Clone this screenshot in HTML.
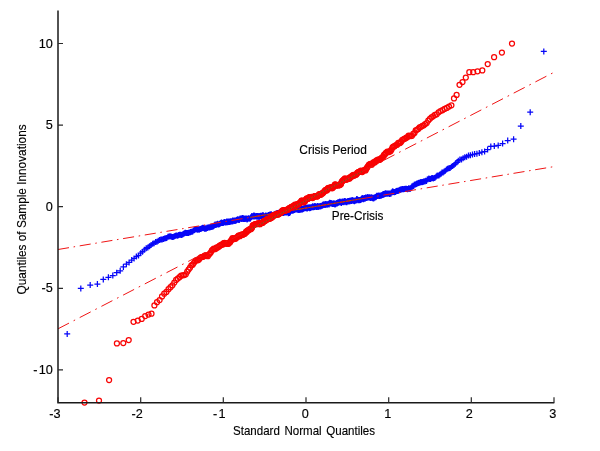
<!DOCTYPE html>
<html><head><meta charset="utf-8"><title>QQ Plot</title>
<style>
html,body{margin:0;padding:0;background:#fff;}
body{width:600px;height:451px;overflow:hidden;}
svg{display:block;filter:blur(0.35px)}
text{font-family:"Liberation Sans",Arial,sans-serif;font-size:12.7px;fill:#000;stroke:#000;stroke-width:0.15px;}
.ax{stroke:#1a1a1a;stroke-width:1.5;fill:none}
.tk{stroke:#2a2a2a;stroke-width:1.2;fill:none}
.ref{stroke:#f01414;stroke-width:1;fill:none}
.gd{stroke:#2f7a18;stroke-width:1;fill:none;stroke-dasharray:1.3 1.9;opacity:.85}
.rc{stroke:#f80404;stroke-width:1.25;fill:none}
.bp{stroke:#0606f8;stroke-width:1.25;fill:none}
</style></head><body>
<svg width="600" height="451" viewBox="0 0 600 451">
<rect width="600" height="451" fill="#fff"/>

<path class="bp" d="M64.2 333.9h6M67.2 330.9v6M77.8 288.4h6M80.8 285.4v6M87.2 285.0h6M90.2 282.0v6M94.4 284.1h6M97.4 281.1v6M100.3 279.4h6M103.3 276.4v6M105.4 277.3h6M108.4 274.3v6M109.8 275.5h6M112.8 272.5v6M113.7 272.7h6M116.7 269.7v6M117.2 270.8h6M120.2 267.8v6M120.4 266.9h6M123.4 263.9v6M123.4 264.2h6M126.4 261.2v6M126.1 262.4h6M129.1 259.4v6M128.7 260.1h6M131.7 257.1v6M131.1 258.4h6M134.1 255.4v6M133.4 256.6h6M136.4 253.6v6M135.5 255.4h6M138.5 252.4v6M137.6 253.2h6M140.6 250.2v6M139.5 251.7h6M142.5 248.7v6M141.4 249.8h6M144.4 246.8v6M143.2 248.3h6M146.2 245.3v6M144.9 247.6h6M147.9 244.6v6M146.5 246.2h6M149.5 243.2v6M148.1 244.9h6M151.1 241.9v6M149.7 243.8h6M152.7 240.8v6M151.1 243.2h6M154.1 240.2v6M152.6 242.1h6M155.6 239.1v6M154.0 241.7h6M157.0 238.7v6M155.3 240.8h6M158.3 237.8v6M156.6 240.1h6M159.6 237.1v6M157.9 239.6h6M160.9 236.6v6M159.1 239.5h6M162.1 236.5v6M160.4 238.9h6M163.4 235.9v6M161.5 238.5h6M164.5 235.5v6M162.7 238.2h6M165.7 235.2v6M163.8 237.9h6M166.8 234.9v6M164.9 236.7h6M167.9 233.7v6M166.0 236.4h6M169.0 233.4v6M167.0 236.3h6M170.0 233.3v6M168.1 236.5h6M171.1 233.5v6M169.1 237.0h6M172.1 234.0v6M170.1 236.9h6M173.1 233.9v6M171.1 236.6h6M174.1 233.6v6M172.0 235.9h6M175.0 232.9v6M173.0 235.6h6M176.0 232.6v6M173.9 235.6h6M176.9 232.6v6M174.8 235.7h6M177.8 232.7v6M175.7 235.1h6M178.7 232.1v6M176.6 234.8h6M179.6 231.8v6M177.4 234.8h6M180.4 231.8v6M178.3 235.1h6M181.3 232.1v6M179.1 234.8h6M182.1 231.8v6M179.9 234.3h6M182.9 231.3v6M180.7 233.7h6M183.7 230.7v6M181.5 233.3h6M184.5 230.3v6M182.3 232.8h6M185.3 229.8v6M183.1 232.9h6M186.1 229.9v6M183.9 233.0h6M186.9 230.0v6M184.6 233.0h6M187.6 230.0v6M185.4 233.1h6M188.4 230.1v6M186.1 232.6h6M189.1 229.6v6M186.9 232.4h6M189.9 229.4v6M187.6 231.9h6M190.6 228.9v6M188.3 231.7h6M191.3 228.7v6M189.0 231.8h6M192.0 228.8v6M189.7 231.5h6M192.7 228.5v6M190.4 230.6h6M193.4 227.6v6M191.1 230.3h6M194.1 227.3v6M191.7 229.9h6M194.7 226.9v6M192.4 229.2h6M195.4 226.2v6M193.1 228.9h6M196.1 225.9v6M193.7 229.2h6M196.7 226.2v6M194.3 229.7h6M197.3 226.7v6M195.0 229.3h6M198.0 226.3v6M195.6 229.5h6M198.6 226.5v6M196.2 229.8h6M199.2 226.8v6M196.9 229.1h6M199.9 226.1v6M197.5 228.9h6M200.5 225.9v6M198.1 228.7h6M201.1 225.7v6M198.7 228.6h6M201.7 225.6v6M199.3 227.9h6M202.3 224.9v6M199.9 227.7h6M202.9 224.7v6M200.5 228.0h6M203.5 225.0v6M201.0 228.3h6M204.0 225.3v6M201.6 228.7h6M204.6 225.7v6M202.2 228.3h6M205.2 225.3v6M202.8 228.7h6M205.8 225.7v6M203.3 228.6h6M206.3 225.6v6M203.9 227.8h6M206.9 224.8v6M204.4 227.9h6M207.4 224.9v6M205.0 227.5h6M208.0 224.5v6M205.5 227.4h6M208.5 224.4v6M206.1 227.2h6M209.1 224.2v6M206.6 227.4h6M209.6 224.4v6M207.1 227.2h6M210.1 224.2v6M207.7 226.9h6M210.7 223.9v6M208.2 227.0h6M211.2 224.0v6M208.7 226.8h6M211.7 223.8v6M209.2 226.4h6M212.2 223.4v6M209.7 226.7h6M212.7 223.7v6M210.3 226.2h6M213.3 223.2v6M210.8 225.8h6M213.8 222.8v6M211.3 225.4h6M214.3 222.4v6M211.8 224.8h6M214.8 221.8v6M212.3 224.5h6M215.3 221.5v6M212.7 225.1h6M215.7 222.1v6M213.2 224.7h6M216.2 221.7v6M213.7 224.6h6M216.7 221.6v6M214.2 224.1h6M217.2 221.1v6M214.7 223.8h6M217.7 220.8v6M215.2 224.4h6M218.2 221.4v6M215.6 224.6h6M218.6 221.6v6M216.1 224.2h6M219.1 221.2v6M216.6 224.1h6M219.6 221.1v6M217.1 223.6h6M220.1 220.6v6M217.5 223.3h6M220.5 220.3v6M218.0 222.9h6M221.0 219.9v6M218.4 222.6h6M221.4 219.6v6M218.9 222.8h6M221.9 219.8v6M219.3 222.9h6M222.3 219.9v6M219.8 223.1h6M222.8 220.1v6M220.2 222.9h6M223.2 219.9v6M220.7 222.4h6M223.7 219.4v6M221.1 222.3h6M224.1 219.3v6M221.6 222.0h6M224.6 219.0v6M222.0 222.3h6M225.0 219.3v6M222.5 222.4h6M225.5 219.4v6M222.9 222.6h6M225.9 219.6v6M223.3 222.3h6M226.3 219.3v6M223.7 221.6h6M226.7 218.6v6M224.2 221.9h6M227.2 218.9v6M224.6 222.3h6M227.6 219.3v6M225.0 221.6h6M228.0 218.6v6M225.4 221.6h6M228.4 218.6v6M225.9 221.9h6M228.9 218.9v6M226.3 221.4h6M229.3 218.4v6M226.7 222.0h6M229.7 219.0v6M227.1 221.7h6M230.1 218.7v6M227.5 221.2h6M230.5 218.2v6M227.9 221.6h6M230.9 218.6v6M228.3 221.6h6M231.3 218.6v6M228.8 221.2h6M231.8 218.2v6M229.2 221.4h6M232.2 218.4v6M229.6 220.6h6M232.6 217.6v6M230.0 221.2h6M233.0 218.2v6M230.4 220.8h6M233.4 217.8v6M230.8 220.8h6M233.8 217.8v6M231.2 220.6h6M234.2 217.6v6M231.6 220.7h6M234.6 217.7v6M231.9 220.9h6M234.9 217.9v6M232.3 220.5h6M235.3 217.5v6M232.7 220.7h6M235.7 217.7v6M233.1 220.4h6M236.1 217.4v6M233.5 220.1h6M236.5 217.1v6M233.9 220.0h6M236.9 217.0v6M234.3 219.6h6M237.3 216.6v6M234.7 219.3h6M237.7 216.3v6M235.0 219.6h6M238.0 216.6v6M235.4 219.6h6M238.4 216.6v6M235.8 219.9h6M238.8 216.9v6M236.2 220.0h6M239.2 217.0v6M236.5 219.5h6M239.5 216.5v6M236.9 218.8h6M239.9 215.8v6M237.3 218.6h6M240.3 215.6v6M237.7 218.8h6M240.7 215.8v6M238.0 218.8h6M241.0 215.8v6M238.4 218.5h6M241.4 215.5v6M238.8 218.9h6M241.8 215.9v6M239.1 218.3h6M242.1 215.3v6M239.5 217.9h6M242.5 214.9v6M239.9 218.0h6M242.9 215.0v6M240.2 218.9h6M243.2 215.9v6M240.6 219.0h6M243.6 216.0v6M241.0 218.5h6M244.0 215.5v6M241.3 218.7h6M244.3 215.7v6M241.7 218.9h6M244.7 215.9v6M242.0 219.1h6M245.0 216.1v6M242.4 218.8h6M245.4 215.8v6M242.7 218.5h6M245.7 215.5v6M243.1 218.4h6M246.1 215.4v6M243.4 218.5h6M246.4 215.5v6M243.8 219.0h6M246.8 216.0v6M244.1 219.6h6M247.1 216.6v6M244.5 219.1h6M247.5 216.1v6M244.8 218.7h6M247.8 215.7v6M245.2 218.5h6M248.2 215.5v6M245.5 218.3h6M248.5 215.3v6M245.9 218.4h6M248.9 215.4v6M246.2 218.4h6M249.2 215.4v6M246.6 218.4h6M249.6 215.4v6M246.9 218.7h6M249.9 215.7v6M247.3 218.5h6M250.3 215.5v6M247.6 217.9h6M250.6 214.9v6M247.9 217.3h6M250.9 214.3v6M248.3 216.9h6M251.3 213.9v6M248.6 216.6h6M251.6 213.6v6M248.9 216.0h6M251.9 213.0v6M249.3 216.4h6M252.3 213.4v6M249.6 216.5h6M252.6 213.5v6M250.0 216.5h6M253.0 213.5v6M250.3 216.2h6M253.3 213.2v6M250.6 215.8h6M253.6 212.8v6M250.9 215.6h6M253.9 212.6v6M251.3 216.4h6M254.3 213.4v6M251.6 215.7h6M254.6 212.7v6M251.9 215.9h6M254.9 212.9v6M252.3 216.2h6M255.3 213.2v6M252.6 216.3h6M255.6 213.3v6M252.9 216.2h6M255.9 213.2v6M253.2 216.5h6M256.2 213.5v6M253.6 216.1h6M256.6 213.1v6M253.9 216.3h6M256.9 213.3v6M254.2 216.8h6M257.2 213.8v6M254.5 216.4h6M257.5 213.4v6M254.9 216.0h6M257.9 213.0v6M255.2 216.1h6M258.2 213.1v6M255.5 216.4h6M258.5 213.4v6M255.8 216.8h6M258.8 213.8v6M256.1 216.9h6M259.1 213.9v6M256.5 216.5h6M259.5 213.5v6M256.8 216.0h6M259.8 213.0v6M257.1 216.1h6M260.1 213.1v6M257.4 216.2h6M260.4 213.2v6M257.7 215.7h6M260.7 212.7v6M258.0 215.7h6M261.0 212.7v6M258.4 215.8h6M261.4 212.8v6M258.7 216.1h6M261.7 213.1v6M259.0 215.7h6M262.0 212.7v6M259.3 215.8h6M262.3 212.8v6M259.6 215.3h6M262.6 212.3v6M259.9 215.2h6M262.9 212.2v6M260.2 215.2h6M263.2 212.2v6M260.5 215.7h6M263.5 212.7v6M260.9 216.8h6M263.9 213.8v6M261.2 216.6h6M264.2 213.6v6M261.5 216.5h6M264.5 213.5v6M261.8 216.7h6M264.8 213.7v6M262.1 215.9h6M265.1 212.9v6M262.4 216.0h6M265.4 213.0v6M262.7 215.4h6M265.7 212.4v6M263.0 215.9h6M266.0 212.9v6M263.3 216.2h6M266.3 213.2v6M263.6 216.2h6M266.6 213.2v6M263.9 215.7h6M266.9 212.7v6M264.2 216.1h6M267.2 213.1v6M264.5 215.9h6M267.5 212.9v6M264.8 215.8h6M267.8 212.8v6M265.1 215.8h6M268.1 212.8v6M265.4 215.0h6M268.4 212.0v6M265.7 215.0h6M268.7 212.0v6M266.0 215.2h6M269.0 212.2v6M266.3 215.2h6M269.3 212.2v6M266.6 215.1h6M269.6 212.1v6M266.9 214.6h6M269.9 211.6v6M267.2 214.8h6M270.2 211.8v6M267.5 214.7h6M270.5 211.7v6M267.8 214.6h6M270.8 211.6v6M268.1 214.3h6M271.1 211.3v6M268.4 214.6h6M271.4 211.6v6M268.7 214.9h6M271.7 211.9v6M269.0 214.9h6M272.0 211.9v6M269.3 215.0h6M272.3 212.0v6M269.6 215.3h6M272.6 212.3v6M269.9 215.6h6M272.9 212.6v6M270.2 215.4h6M273.2 212.4v6M270.5 215.0h6M273.5 212.0v6M270.8 214.6h6M273.8 211.6v6M271.1 214.5h6M274.1 211.5v6M271.4 214.5h6M274.4 211.5v6M271.7 214.7h6M274.7 211.7v6M272.0 214.3h6M275.0 211.3v6M272.3 214.2h6M275.3 211.2v6M272.5 213.7h6M275.5 210.7v6M272.8 214.1h6M275.8 211.1v6M273.1 213.8h6M276.1 210.8v6M273.4 213.8h6M276.4 210.8v6M273.7 213.4h6M276.7 210.4v6M274.0 213.3h6M277.0 210.3v6M274.3 213.0h6M277.3 210.0v6M274.6 213.5h6M277.6 210.5v6M274.9 213.6h6M277.9 210.6v6M275.2 213.4h6M278.2 210.4v6M275.4 213.0h6M278.4 210.0v6M275.7 212.7h6M278.7 209.7v6M276.0 212.9h6M279.0 209.9v6M276.3 213.4h6M279.3 210.4v6M276.6 212.8h6M279.6 209.8v6M276.9 212.4h6M279.9 209.4v6M277.2 212.4h6M280.2 209.4v6M277.4 212.1h6M280.4 209.1v6M277.7 211.6h6M280.7 208.6v6M278.0 211.7h6M281.0 208.7v6M278.3 212.1h6M281.3 209.1v6M278.6 211.5h6M281.6 208.5v6M278.9 211.7h6M281.9 208.7v6M279.2 212.1h6M282.2 209.1v6M279.4 212.4h6M282.4 209.4v6M279.7 212.2h6M282.7 209.2v6M280.0 213.0h6M283.0 210.0v6M280.3 213.0h6M283.3 210.0v6M280.6 212.6h6M283.6 209.6v6M280.9 212.8h6M283.9 209.8v6M281.1 212.3h6M284.1 209.3v6M281.4 212.5h6M284.4 209.5v6M281.7 211.9h6M284.7 208.9v6M282.0 212.2h6M285.0 209.2v6M282.3 211.9h6M285.3 208.9v6M282.5 212.2h6M285.5 209.2v6M282.8 212.4h6M285.8 209.4v6M283.1 212.4h6M286.1 209.4v6M283.4 212.3h6M286.4 209.3v6M283.7 212.5h6M286.7 209.5v6M283.9 211.7h6M286.9 208.7v6M284.2 211.8h6M287.2 208.8v6M284.5 211.8h6M287.5 208.8v6M284.8 211.9h6M287.8 208.9v6M285.1 212.1h6M288.1 209.1v6M285.3 213.2h6M288.3 210.2v6M285.6 213.0h6M288.6 210.0v6M285.9 212.9h6M288.9 209.9v6M286.2 212.7h6M289.2 209.7v6M286.4 213.0h6M289.4 210.0v6M286.7 212.0h6M289.7 209.0v6M287.0 212.4h6M290.0 209.4v6M287.3 211.9h6M290.3 208.9v6M287.6 210.9h6M290.6 207.9v6M287.8 210.5h6M290.8 207.5v6M288.1 210.5h6M291.1 207.5v6M288.4 210.5h6M291.4 207.5v6M288.7 210.5h6M291.7 207.5v6M288.9 210.8h6M291.9 207.8v6M289.2 210.7h6M292.2 207.7v6M289.5 210.7h6M292.5 207.7v6M289.8 209.9h6M292.8 206.9v6M290.0 210.1h6M293.0 207.1v6M290.3 210.5h6M293.3 207.5v6M290.6 210.3h6M293.6 207.3v6M290.9 209.6h6M293.9 206.6v6M291.1 209.2h6M294.1 206.2v6M291.4 209.9h6M294.4 206.9v6M291.7 209.7h6M294.7 206.7v6M292.0 209.5h6M295.0 206.5v6M292.2 209.3h6M295.2 206.3v6M292.5 209.6h6M295.5 206.6v6M292.8 209.5h6M295.8 206.5v6M293.1 209.2h6M296.1 206.2v6M293.3 208.8h6M296.3 205.8v6M293.6 208.9h6M296.6 205.9v6M293.9 209.3h6M296.9 206.3v6M294.2 209.3h6M297.2 206.3v6M294.4 209.7h6M297.4 206.7v6M294.7 209.7h6M297.7 206.7v6M295.0 209.7h6M298.0 206.7v6M295.3 209.7h6M298.3 206.7v6M295.5 209.7h6M298.5 206.7v6M295.8 210.0h6M298.8 207.0v6M296.1 210.1h6M299.1 207.1v6M296.4 209.7h6M299.4 206.7v6M296.6 209.7h6M299.6 206.7v6M296.9 209.6h6M299.9 206.6v6M297.2 209.7h6M300.2 206.7v6M297.5 209.7h6M300.5 206.7v6M297.7 209.7h6M300.7 206.7v6M298.0 209.1h6M301.0 206.1v6M298.3 209.2h6M301.3 206.2v6M298.5 209.6h6M301.5 206.6v6M298.8 209.0h6M301.8 206.0v6M299.1 209.5h6M302.1 206.5v6M299.4 209.5h6M302.4 206.5v6M299.6 209.3h6M302.6 206.3v6M299.9 208.6h6M302.9 205.6v6M300.2 209.0h6M303.2 206.0v6M300.5 208.6h6M303.5 205.6v6M300.7 208.4h6M303.7 205.4v6M301.0 208.6h6M304.0 205.6v6M301.3 208.2h6M304.3 205.2v6M301.5 207.9h6M304.5 204.9v6M301.8 207.5h6M304.8 204.5v6M302.1 207.6h6M305.1 204.6v6M302.4 207.9h6M305.4 204.9v6M302.6 208.1h6M305.6 205.1v6M302.9 208.2h6M305.9 205.2v6M303.2 208.1h6M306.2 205.1v6M303.5 208.1h6M306.5 205.1v6M303.7 207.9h6M306.7 204.9v6M304.0 208.6h6M307.0 205.6v6M304.3 208.6h6M307.3 205.6v6M304.5 207.8h6M307.5 204.8v6M304.8 207.4h6M307.8 204.4v6M305.1 208.0h6M308.1 205.0v6M305.4 207.5h6M308.4 204.5v6M305.6 207.4h6M308.6 204.4v6M305.9 207.5h6M308.9 204.5v6M306.2 207.2h6M309.2 204.2v6M306.5 207.6h6M309.5 204.6v6M306.7 208.2h6M309.7 205.2v6M307.0 207.8h6M310.0 204.8v6M307.3 208.1h6M310.3 205.1v6M307.5 207.7h6M310.5 204.7v6M307.8 207.3h6M310.8 204.3v6M308.1 207.4h6M311.1 204.4v6M308.4 207.4h6M311.4 204.4v6M308.6 207.2h6M311.6 204.2v6M308.9 207.5h6M311.9 204.5v6M309.2 206.9h6M312.2 203.9v6M309.5 206.6h6M312.5 203.6v6M309.7 206.3h6M312.7 203.3v6M310.0 206.6h6M313.0 203.6v6M310.3 207.0h6M313.3 204.0v6M310.6 207.2h6M313.6 204.2v6M310.8 206.7h6M313.8 203.7v6M311.1 206.7h6M314.1 203.7v6M311.4 206.9h6M314.4 203.9v6M311.7 206.3h6M314.7 203.3v6M311.9 206.0h6M314.9 203.0v6M312.2 206.3h6M315.2 203.3v6M312.5 206.6h6M315.5 203.6v6M312.8 206.7h6M315.8 203.7v6M313.0 206.8h6M316.0 203.8v6M313.3 206.9h6M316.3 203.9v6M313.6 206.8h6M316.6 203.8v6M313.9 206.7h6M316.9 203.7v6M314.1 206.3h6M317.1 203.3v6M314.4 206.2h6M317.4 203.2v6M314.7 206.1h6M317.7 203.1v6M315.0 206.9h6M318.0 203.9v6M315.2 206.8h6M318.2 203.8v6M315.5 206.7h6M318.5 203.7v6M315.8 206.5h6M318.8 203.5v6M316.1 206.4h6M319.1 203.4v6M316.3 206.2h6M319.3 203.2v6M316.6 206.3h6M319.6 203.3v6M316.9 206.2h6M319.9 203.2v6M317.2 206.4h6M320.2 203.4v6M317.4 206.1h6M320.4 203.1v6M317.7 206.1h6M320.7 203.1v6M318.0 206.3h6M321.0 203.3v6M318.3 205.8h6M321.3 202.8v6M318.6 205.8h6M321.6 202.8v6M318.8 205.8h6M321.8 202.8v6M319.1 205.7h6M322.1 202.7v6M319.4 205.4h6M322.4 202.4v6M319.7 204.8h6M322.7 201.8v6M319.9 205.2h6M322.9 202.2v6M320.2 204.9h6M323.2 201.9v6M320.5 204.5h6M323.5 201.5v6M320.8 204.8h6M323.8 201.8v6M321.1 204.2h6M324.1 201.2v6M321.3 204.6h6M324.3 201.6v6M321.6 204.8h6M324.6 201.8v6M321.9 205.0h6M324.9 202.0v6M322.2 205.0h6M325.2 202.0v6M322.5 204.5h6M325.5 201.5v6M322.7 203.9h6M325.7 200.9v6M323.0 204.5h6M326.0 201.5v6M323.3 204.3h6M326.3 201.3v6M323.6 204.2h6M326.6 201.2v6M323.9 204.8h6M326.9 201.8v6M324.1 204.5h6M327.1 201.5v6M324.4 204.4h6M327.4 201.4v6M324.7 204.3h6M327.7 201.3v6M325.0 204.3h6M328.0 201.3v6M325.3 203.9h6M328.3 200.9v6M325.6 203.8h6M328.6 200.8v6M325.8 204.3h6M328.8 201.3v6M326.1 204.5h6M329.1 201.5v6M326.4 203.4h6M329.4 200.4v6M326.7 202.8h6M329.7 199.8v6M327.0 203.1h6M330.0 200.1v6M327.3 203.2h6M330.3 200.2v6M327.6 203.2h6M330.6 200.2v6M327.8 203.6h6M330.8 200.6v6M328.1 203.0h6M331.1 200.0v6M328.4 203.5h6M331.4 200.5v6M328.7 203.6h6M331.7 200.6v6M329.0 203.8h6M332.0 200.8v6M329.3 203.8h6M332.3 200.8v6M329.6 204.1h6M332.6 201.1v6M329.8 203.9h6M332.8 200.9v6M330.1 203.6h6M333.1 200.6v6M330.4 203.9h6M333.4 200.9v6M330.7 203.8h6M333.7 200.8v6M331.0 203.3h6M334.0 200.3v6M331.3 203.8h6M334.3 200.8v6M331.6 204.1h6M334.6 201.1v6M331.9 204.5h6M334.9 201.5v6M332.2 204.3h6M335.2 201.3v6M332.5 204.2h6M335.5 201.2v6M332.7 203.9h6M335.7 200.9v6M333.0 203.4h6M336.0 200.4v6M333.3 203.3h6M336.3 200.3v6M333.6 203.3h6M336.6 200.3v6M333.9 203.0h6M336.9 200.0v6M334.2 203.6h6M337.2 200.6v6M334.5 202.9h6M337.5 199.9v6M334.8 202.5h6M337.8 199.5v6M335.1 202.3h6M338.1 199.3v6M335.4 202.8h6M338.4 199.8v6M335.7 202.6h6M338.7 199.6v6M336.0 202.5h6M339.0 199.5v6M336.3 202.1h6M339.3 199.1v6M336.6 201.9h6M339.6 198.9v6M336.9 201.5h6M339.9 198.5v6M337.2 201.9h6M340.2 198.9v6M337.5 202.2h6M340.5 199.2v6M337.8 202.5h6M340.8 199.5v6M338.1 202.2h6M341.1 199.2v6M338.4 203.0h6M341.4 200.0v6M338.7 202.5h6M341.7 199.5v6M339.0 201.7h6M342.0 198.7v6M339.3 201.6h6M342.3 198.6v6M339.6 201.7h6M342.6 198.7v6M339.9 201.9h6M342.9 198.9v6M340.2 201.5h6M343.2 198.5v6M340.5 201.7h6M343.5 198.7v6M340.8 202.3h6M343.8 199.3v6M341.1 201.9h6M344.1 198.9v6M341.4 201.6h6M344.4 198.6v6M341.7 200.9h6M344.7 197.9v6M342.0 201.1h6M345.0 198.1v6M342.3 201.4h6M345.3 198.4v6M342.6 201.6h6M345.6 198.6v6M342.9 201.9h6M345.9 198.9v6M343.2 202.2h6M346.2 199.2v6M343.5 202.1h6M346.5 199.1v6M343.8 202.3h6M346.8 199.3v6M344.1 201.7h6M347.1 198.7v6M344.5 201.3h6M347.5 198.3v6M344.8 201.3h6M347.8 198.3v6M345.1 201.0h6M348.1 198.0v6M345.4 201.1h6M348.4 198.1v6M345.7 201.5h6M348.7 198.5v6M346.0 201.5h6M349.0 198.5v6M346.3 201.1h6M349.3 198.1v6M346.6 200.8h6M349.6 197.8v6M347.0 201.2h6M350.0 198.2v6M347.3 200.8h6M350.3 197.8v6M347.6 200.8h6M350.6 197.8v6M347.9 200.6h6M350.9 197.6v6M348.2 200.6h6M351.2 197.6v6M348.5 200.9h6M351.5 197.9v6M348.9 200.6h6M351.9 197.6v6M349.2 200.0h6M352.2 197.0v6M349.5 200.5h6M352.5 197.5v6M349.8 200.5h6M352.8 197.5v6M350.1 200.7h6M353.1 197.7v6M350.5 200.5h6M353.5 197.5v6M350.8 200.7h6M353.8 197.7v6M351.1 201.0h6M354.1 198.0v6M351.4 201.3h6M354.4 198.3v6M351.8 200.9h6M354.8 197.9v6M352.1 200.6h6M355.1 197.6v6M352.4 200.6h6M355.4 197.6v6M352.7 200.5h6M355.7 197.5v6M353.1 200.5h6M356.1 197.5v6M353.4 200.1h6M356.4 197.1v6M353.7 199.1h6M356.7 196.1v6M354.1 199.3h6M357.1 196.3v6M354.4 199.5h6M357.4 196.5v6M354.7 199.7h6M357.7 196.7v6M355.0 200.2h6M358.0 197.2v6M355.4 200.3h6M358.4 197.3v6M355.7 199.9h6M358.7 196.9v6M356.1 200.1h6M359.1 197.1v6M356.4 199.9h6M359.4 196.9v6M356.7 200.2h6M359.7 197.2v6M357.1 200.0h6M360.1 197.0v6M357.4 200.0h6M360.4 197.0v6M357.7 199.8h6M360.7 196.8v6M358.1 199.7h6M361.1 196.7v6M358.4 199.0h6M361.4 196.0v6M358.8 198.9h6M361.8 195.9v6M359.1 198.0h6M362.1 195.0v6M359.5 198.2h6M362.5 195.2v6M359.8 198.6h6M362.8 195.6v6M360.2 199.2h6M363.2 196.2v6M360.5 199.2h6M363.5 196.2v6M360.9 198.8h6M363.9 195.8v6M361.2 198.1h6M364.2 195.1v6M361.6 198.8h6M364.6 195.8v6M361.9 198.1h6M364.9 195.1v6M362.3 198.4h6M365.3 195.4v6M362.6 197.5h6M365.6 194.5v6M363.0 197.5h6M366.0 194.5v6M363.3 197.8h6M366.3 194.8v6M363.7 197.9h6M366.7 194.9v6M364.0 197.8h6M367.0 194.8v6M364.4 197.5h6M367.4 194.5v6M364.8 197.1h6M367.8 194.1v6M365.1 197.5h6M368.1 194.5v6M365.5 197.6h6M368.5 194.6v6M365.9 197.5h6M368.9 194.5v6M366.2 197.5h6M369.2 194.5v6M366.6 197.2h6M369.6 194.2v6M367.0 197.5h6M370.0 194.5v6M367.3 197.9h6M370.3 194.9v6M367.7 197.4h6M370.7 194.4v6M368.1 197.4h6M371.1 194.4v6M368.5 197.7h6M371.5 194.7v6M368.8 197.3h6M371.8 194.3v6M369.2 197.9h6M372.2 194.9v6M369.6 198.3h6M372.6 195.3v6M370.0 197.9h6M373.0 194.9v6M370.3 198.0h6M373.3 195.0v6M370.7 198.4h6M373.7 195.4v6M371.1 197.6h6M374.1 194.6v6M371.5 197.7h6M374.5 194.7v6M371.9 197.4h6M374.9 194.4v6M372.3 197.1h6M375.3 194.1v6M372.7 197.2h6M375.7 194.2v6M373.1 196.9h6M376.1 193.9v6M373.4 196.3h6M376.4 193.3v6M373.8 195.7h6M376.8 192.7v6M374.2 195.7h6M377.2 192.7v6M374.6 195.9h6M377.6 192.9v6M375.0 195.8h6M378.0 192.8v6M375.4 195.7h6M378.4 192.7v6M375.8 195.6h6M378.8 192.6v6M376.2 196.0h6M379.2 193.0v6M376.7 196.1h6M379.7 193.1v6M377.1 195.7h6M380.1 192.7v6M377.5 195.5h6M380.5 192.5v6M377.9 195.8h6M380.9 192.8v6M378.3 195.4h6M381.3 192.4v6M378.7 195.2h6M381.7 192.2v6M379.1 195.1h6M382.1 192.1v6M379.6 194.6h6M382.6 191.6v6M380.0 194.9h6M383.0 191.9v6M380.4 194.0h6M383.4 191.0v6M380.8 194.6h6M383.8 191.6v6M381.3 194.3h6M384.3 191.3v6M381.7 193.8h6M384.7 190.8v6M382.1 193.9h6M385.1 190.9v6M382.5 193.3h6M385.5 190.3v6M383.0 193.6h6M386.0 190.6v6M383.4 193.8h6M386.4 190.8v6M383.9 193.6h6M386.9 190.6v6M384.3 193.4h6M387.3 190.4v6M384.8 193.7h6M387.8 190.7v6M385.2 193.4h6M388.2 190.4v6M385.7 193.4h6M388.7 190.4v6M386.1 193.4h6M389.1 190.4v6M386.6 193.9h6M389.6 190.9v6M387.0 193.5h6M390.0 190.5v6M387.5 193.4h6M390.5 190.4v6M387.9 193.7h6M390.9 190.7v6M388.4 192.6h6M391.4 189.6v6M388.9 192.5h6M391.9 189.5v6M389.4 191.8h6M392.4 188.8v6M389.8 191.2h6M392.8 188.2v6M390.3 192.0h6M393.3 189.0v6M390.8 191.9h6M393.8 188.9v6M391.3 192.3h6M394.3 189.3v6M391.8 192.0h6M394.8 189.0v6M392.3 192.0h6M395.3 189.0v6M392.7 191.6h6M395.7 188.6v6M393.2 191.2h6M396.2 188.2v6M393.7 190.9h6M396.7 187.9v6M394.2 190.8h6M397.2 187.8v6M394.7 191.1h6M397.7 188.1v6M395.3 190.8h6M398.3 187.8v6M395.8 190.6h6M398.8 187.6v6M396.3 190.3h6M399.3 187.3v6M396.8 190.0h6M399.8 187.0v6M397.3 189.4h6M400.3 186.4v6M397.9 189.7h6M400.9 186.7v6M398.4 189.3h6M401.4 186.3v6M398.9 189.2h6M401.9 186.2v6M399.5 189.0h6M402.5 186.0v6M400.0 189.2h6M403.0 186.2v6M400.6 189.2h6M403.6 186.2v6M401.1 189.0h6M404.1 186.0v6M401.7 188.9h6M404.7 185.9v6M402.2 188.8h6M405.2 185.8v6M402.8 188.9h6M405.8 185.9v6M403.4 188.8h6M406.4 185.8v6M404.0 189.0h6M407.0 186.0v6M404.5 189.3h6M407.5 186.3v6M405.1 189.1h6M408.1 186.1v6M405.7 188.3h6M408.7 185.3v6M406.3 188.6h6M409.3 185.6v6M406.9 189.1h6M409.9 186.1v6M407.5 188.4h6M410.5 185.4v6M408.1 187.7h6M411.1 184.7v6M408.8 186.6h6M411.8 183.6v6M409.4 186.5h6M412.4 183.5v6M410.0 185.8h6M413.0 182.8v6M410.7 186.1h6M413.7 183.1v6M411.3 184.8h6M414.3 181.8v6M411.9 184.6h6M414.9 181.6v6M412.6 184.6h6M415.6 181.6v6M413.3 184.1h6M416.3 181.1v6M413.9 183.6h6M416.9 180.6v6M414.6 183.5h6M417.6 180.5v6M415.3 183.1h6M418.3 180.1v6M416.0 182.8h6M419.0 179.8v6M416.7 182.7h6M419.7 179.7v6M417.4 182.3h6M420.4 179.3v6M418.1 182.1h6M421.1 179.1v6M418.9 182.2h6M421.9 179.2v6M419.6 181.9h6M422.6 178.9v6M420.4 181.8h6M423.4 178.8v6M421.1 181.3h6M424.1 178.3v6M421.9 181.4h6M424.9 178.4v6M422.7 180.8h6M425.7 177.8v6M423.5 180.9h6M426.5 177.9v6M424.3 179.6h6M427.3 176.6v6M425.1 179.2h6M428.1 176.2v6M425.9 178.6h6M428.9 175.6v6M426.7 179.0h6M429.7 176.0v6M427.6 178.9h6M430.6 175.9v6M428.4 178.3h6M431.4 175.3v6M429.3 178.0h6M432.3 175.0v6M430.2 178.4h6M433.2 175.4v6M431.1 178.0h6M434.1 175.0v6M432.0 177.7h6M435.0 174.7v6M433.0 176.7h6M436.0 173.7v6M433.9 175.7h6M436.9 172.7v6M434.9 175.4h6M437.9 172.4v6M435.9 175.5h6M438.9 172.5v6M436.9 174.4h6M439.9 171.4v6M438.0 173.8h6M441.0 170.8v6M439.0 172.6h6M442.0 169.6v6M440.1 172.5h6M443.1 169.5v6M441.2 171.6h6M444.2 168.6v6M442.3 170.8h6M445.3 167.8v6M443.5 169.5h6M446.5 166.5v6M444.6 168.8h6M447.6 165.8v6M445.9 168.3h6M448.9 165.3v6M447.1 168.1h6M450.1 165.1v6M448.4 166.7h6M451.4 163.7v6M449.7 166.1h6M452.7 163.1v6M451.0 164.9h6M454.0 161.9v6M452.4 163.8h6M455.4 160.8v6M453.9 162.3h6M456.9 159.3v6M455.3 160.7h6M458.3 157.7v6M456.9 159.6h6M459.9 156.6v6M458.5 159.5h6M461.5 156.5v6M460.1 158.2h6M463.1 155.2v6M461.8 157.2h6M464.8 154.2v6M463.6 156.8h6M466.6 153.8v6M465.5 155.5h6M468.5 152.5v6M467.4 155.2h6M470.4 152.2v6M469.5 154.5h6M472.5 151.5v6M471.6 154.0h6M474.6 151.0v6M473.9 153.7h6M476.9 150.7v6M476.3 153.0h6M479.3 150.0v6M478.9 152.2h6M481.9 149.2v6M481.6 151.5h6M484.6 148.5v6M484.6 149.5h6M487.6 146.5v6M487.8 146.4h6M490.8 143.4v6M491.3 146.0h6M494.3 143.0v6M495.2 145.4h6M498.2 142.4v6M499.6 143.5h6M502.6 140.5v6M504.7 140.5h6M507.7 137.5v6M510.6 139.2h6M513.6 136.2v6M517.8 126.0h6M520.8 123.0v6M527.2 112.2h6M530.2 109.2v6M540.8 51.4h6M543.8 48.4v6"/>
<line class="ref" x1="58" y1="249.5" x2="554" y2="166.6" stroke-dasharray="11.15 4.66 1.52 4.66"/>
<line class="ref" x1="250.2" y1="217.4" x2="361.8" y2="198.7"/><line class="gd" x1="250.2" y1="217.4" x2="361.8" y2="198.7"/>
<g class="rc">
<circle cx="84.5" cy="402.6" r="2.5"/>
<circle cx="99.0" cy="400.6" r="2.5"/>
<circle cx="109.1" cy="380.0" r="2.5"/>
<circle cx="116.9" cy="343.4" r="2.5"/>
<circle cx="123.3" cy="343.1" r="2.5"/>
<circle cx="128.7" cy="340.0" r="2.5"/>
<circle cx="133.5" cy="321.8" r="2.5"/>
<circle cx="137.8" cy="320.6" r="2.5"/>
<circle cx="141.7" cy="318.9" r="2.5"/>
<circle cx="145.2" cy="316.0" r="2.5"/>
<circle cx="148.5" cy="314.6" r="2.5"/>
<circle cx="151.5" cy="313.7" r="2.5"/>
<circle cx="154.4" cy="305.4" r="2.5"/>
<circle cx="157.0" cy="302.2" r="2.5"/>
<circle cx="159.6" cy="300.0" r="2.5"/>
<circle cx="162.0" cy="296.4" r="2.5"/>
<circle cx="164.2" cy="293.7" r="2.5"/>
<circle cx="166.4" cy="291.9" r="2.5"/>
<circle cx="168.5" cy="289.2" r="2.5"/>
<circle cx="170.5" cy="287.2" r="2.5"/>
<circle cx="172.4" cy="285.3" r="2.5"/>
<circle cx="174.3" cy="282.5" r="2.5"/>
<circle cx="176.1" cy="279.9" r="2.5"/>
<circle cx="177.8" cy="278.6" r="2.5"/>
<circle cx="179.5" cy="277.2" r="2.5"/>
<circle cx="181.1" cy="275.5" r="2.5"/>
<circle cx="182.7" cy="275.3" r="2.5"/>
<circle cx="184.3" cy="275.0" r="2.5"/>
<circle cx="185.8" cy="274.3" r="2.5"/>
<circle cx="187.2" cy="271.7" r="2.5"/>
<circle cx="188.6" cy="269.6" r="2.5"/>
<circle cx="190.0" cy="267.7" r="2.5"/>
<circle cx="191.4" cy="265.3" r="2.5"/>
<circle cx="192.7" cy="264.7" r="2.5"/>
<circle cx="194.0" cy="262.8" r="2.5"/>
<circle cx="195.3" cy="261.0" r="2.5"/>
<circle cx="196.5" cy="260.1" r="2.5"/>
<circle cx="197.8" cy="260.3" r="2.5"/>
<circle cx="199.0" cy="259.5" r="2.5"/>
<circle cx="200.1" cy="258.1" r="2.5"/>
<circle cx="201.3" cy="257.0" r="2.5"/>
<circle cx="202.4" cy="256.9" r="2.5"/>
<circle cx="203.6" cy="256.5" r="2.5"/>
<circle cx="204.7" cy="255.7" r="2.5"/>
<circle cx="205.7" cy="255.3" r="2.5"/>
<circle cx="206.8" cy="255.4" r="2.5"/>
<circle cx="207.8" cy="256.2" r="2.5"/>
<circle cx="208.9" cy="254.6" r="2.5"/>
<circle cx="209.9" cy="253.5" r="2.5"/>
<circle cx="210.9" cy="252.3" r="2.5"/>
<circle cx="211.9" cy="250.3" r="2.5"/>
<circle cx="212.9" cy="249.5" r="2.5"/>
<circle cx="213.8" cy="248.7" r="2.5"/>
<circle cx="214.8" cy="249.2" r="2.5"/>
<circle cx="215.7" cy="248.7" r="2.5"/>
<circle cx="216.7" cy="247.4" r="2.5"/>
<circle cx="217.6" cy="247.6" r="2.5"/>
<circle cx="218.5" cy="247.1" r="2.5"/>
<circle cx="219.4" cy="245.9" r="2.5"/>
<circle cx="220.3" cy="245.4" r="2.5"/>
<circle cx="221.1" cy="245.0" r="2.5"/>
<circle cx="222.0" cy="244.4" r="2.5"/>
<circle cx="222.9" cy="244.4" r="2.5"/>
<circle cx="223.7" cy="243.0" r="2.5"/>
<circle cx="224.6" cy="242.9" r="2.5"/>
<circle cx="225.4" cy="243.3" r="2.5"/>
<circle cx="226.2" cy="243.5" r="2.5"/>
<circle cx="227.0" cy="243.6" r="2.5"/>
<circle cx="227.8" cy="243.7" r="2.5"/>
<circle cx="228.6" cy="243.8" r="2.5"/>
<circle cx="229.4" cy="242.4" r="2.5"/>
<circle cx="230.2" cy="242.2" r="2.5"/>
<circle cx="231.0" cy="240.5" r="2.5"/>
<circle cx="231.8" cy="239.7" r="2.5"/>
<circle cx="232.5" cy="238.2" r="2.5"/>
<circle cx="233.3" cy="238.6" r="2.5"/>
<circle cx="234.1" cy="239.0" r="2.5"/>
<circle cx="234.8" cy="238.3" r="2.5"/>
<circle cx="235.6" cy="238.8" r="2.5"/>
<circle cx="236.3" cy="237.7" r="2.5"/>
<circle cx="237.0" cy="237.3" r="2.5"/>
<circle cx="237.8" cy="236.8" r="2.5"/>
<circle cx="238.5" cy="235.7" r="2.5"/>
<circle cx="239.2" cy="235.6" r="2.5"/>
<circle cx="239.9" cy="236.2" r="2.5"/>
<circle cx="240.6" cy="235.0" r="2.5"/>
<circle cx="241.3" cy="235.0" r="2.5"/>
<circle cx="242.0" cy="234.3" r="2.5"/>
<circle cx="242.7" cy="234.8" r="2.5"/>
<circle cx="243.4" cy="234.3" r="2.5"/>
<circle cx="244.1" cy="234.0" r="2.5"/>
<circle cx="244.8" cy="233.7" r="2.5"/>
<circle cx="245.4" cy="233.1" r="2.5"/>
<circle cx="246.1" cy="231.7" r="2.5"/>
<circle cx="246.8" cy="232.0" r="2.5"/>
<circle cx="247.4" cy="230.6" r="2.5"/>
<circle cx="248.1" cy="230.3" r="2.5"/>
<circle cx="248.8" cy="230.2" r="2.5"/>
<circle cx="249.4" cy="229.3" r="2.5"/>
<circle cx="250.1" cy="229.0" r="2.5"/>
<circle cx="250.7" cy="229.2" r="2.5"/>
<circle cx="251.4" cy="228.7" r="2.5"/>
<circle cx="252.0" cy="227.7" r="2.5"/>
<circle cx="252.6" cy="225.7" r="2.5"/>
<circle cx="253.3" cy="225.2" r="2.5"/>
<circle cx="253.9" cy="224.9" r="2.5"/>
<circle cx="254.5" cy="224.6" r="2.5"/>
<circle cx="255.2" cy="224.1" r="2.5"/>
<circle cx="255.8" cy="224.3" r="2.5"/>
<circle cx="256.4" cy="223.9" r="2.5"/>
<circle cx="257.0" cy="223.8" r="2.5"/>
<circle cx="257.6" cy="224.1" r="2.5"/>
<circle cx="258.2" cy="223.4" r="2.5"/>
<circle cx="258.8" cy="223.1" r="2.5"/>
<circle cx="259.4" cy="224.1" r="2.5"/>
<circle cx="260.1" cy="224.2" r="2.5"/>
<circle cx="260.7" cy="223.0" r="2.5"/>
<circle cx="261.3" cy="222.6" r="2.5"/>
<circle cx="261.9" cy="222.6" r="2.5"/>
<circle cx="262.4" cy="222.9" r="2.5"/>
<circle cx="263.0" cy="222.5" r="2.5"/>
<circle cx="263.6" cy="221.7" r="2.5"/>
<circle cx="264.2" cy="220.9" r="2.5"/>
<circle cx="264.8" cy="221.0" r="2.5"/>
<circle cx="265.4" cy="220.8" r="2.5"/>
<circle cx="266.0" cy="220.1" r="2.5"/>
<circle cx="266.5" cy="219.7" r="2.5"/>
<circle cx="267.1" cy="219.2" r="2.5"/>
<circle cx="267.7" cy="219.3" r="2.5"/>
<circle cx="268.3" cy="218.6" r="2.5"/>
<circle cx="268.8" cy="218.6" r="2.5"/>
<circle cx="269.4" cy="218.7" r="2.5"/>
<circle cx="270.0" cy="218.6" r="2.5"/>
<circle cx="270.6" cy="217.7" r="2.5"/>
<circle cx="271.1" cy="218.1" r="2.5"/>
<circle cx="271.7" cy="217.3" r="2.5"/>
<circle cx="272.2" cy="217.2" r="2.5"/>
<circle cx="272.8" cy="216.4" r="2.5"/>
<circle cx="273.4" cy="215.2" r="2.5"/>
<circle cx="273.9" cy="215.3" r="2.5"/>
<circle cx="274.5" cy="215.3" r="2.5"/>
<circle cx="275.0" cy="215.0" r="2.5"/>
<circle cx="275.6" cy="215.0" r="2.5"/>
<circle cx="276.1" cy="214.4" r="2.5"/>
<circle cx="276.7" cy="213.8" r="2.5"/>
<circle cx="277.2" cy="213.5" r="2.5"/>
<circle cx="277.8" cy="214.5" r="2.5"/>
<circle cx="278.3" cy="214.5" r="2.5"/>
<circle cx="278.9" cy="213.8" r="2.5"/>
<circle cx="279.4" cy="213.8" r="2.5"/>
<circle cx="280.0" cy="213.1" r="2.5"/>
<circle cx="280.5" cy="212.5" r="2.5"/>
<circle cx="281.1" cy="212.8" r="2.5"/>
<circle cx="281.6" cy="212.1" r="2.5"/>
<circle cx="282.1" cy="210.9" r="2.5"/>
<circle cx="282.7" cy="210.3" r="2.5"/>
<circle cx="283.2" cy="210.3" r="2.5"/>
<circle cx="283.8" cy="210.3" r="2.5"/>
<circle cx="284.3" cy="210.9" r="2.5"/>
<circle cx="284.8" cy="210.2" r="2.5"/>
<circle cx="285.4" cy="210.4" r="2.5"/>
<circle cx="285.9" cy="210.3" r="2.5"/>
<circle cx="286.4" cy="209.9" r="2.5"/>
<circle cx="287.0" cy="210.0" r="2.5"/>
<circle cx="287.5" cy="209.9" r="2.5"/>
<circle cx="288.0" cy="209.0" r="2.5"/>
<circle cx="288.5" cy="209.3" r="2.5"/>
<circle cx="289.1" cy="208.3" r="2.5"/>
<circle cx="289.6" cy="208.1" r="2.5"/>
<circle cx="290.1" cy="207.8" r="2.5"/>
<circle cx="290.7" cy="207.8" r="2.5"/>
<circle cx="291.2" cy="207.1" r="2.5"/>
<circle cx="291.7" cy="206.9" r="2.5"/>
<circle cx="292.2" cy="206.6" r="2.5"/>
<circle cx="292.8" cy="207.0" r="2.5"/>
<circle cx="293.3" cy="206.2" r="2.5"/>
<circle cx="293.8" cy="206.0" r="2.5"/>
<circle cx="294.3" cy="205.7" r="2.5"/>
<circle cx="294.9" cy="204.7" r="2.5"/>
<circle cx="295.4" cy="206.1" r="2.5"/>
<circle cx="295.9" cy="205.7" r="2.5"/>
<circle cx="296.4" cy="204.5" r="2.5"/>
<circle cx="296.9" cy="205.1" r="2.5"/>
<circle cx="297.5" cy="204.2" r="2.5"/>
<circle cx="298.0" cy="204.2" r="2.5"/>
<circle cx="298.5" cy="204.4" r="2.5"/>
<circle cx="299.0" cy="203.7" r="2.5"/>
<circle cx="299.5" cy="203.2" r="2.5"/>
<circle cx="300.1" cy="202.7" r="2.5"/>
<circle cx="300.6" cy="202.5" r="2.5"/>
<circle cx="301.1" cy="201.4" r="2.5"/>
<circle cx="301.6" cy="200.7" r="2.5"/>
<circle cx="302.1" cy="200.7" r="2.5"/>
<circle cx="302.7" cy="201.3" r="2.5"/>
<circle cx="303.2" cy="201.6" r="2.5"/>
<circle cx="303.7" cy="202.3" r="2.5"/>
<circle cx="304.2" cy="202.2" r="2.5"/>
<circle cx="304.7" cy="201.5" r="2.5"/>
<circle cx="305.2" cy="201.1" r="2.5"/>
<circle cx="305.8" cy="199.6" r="2.5"/>
<circle cx="306.3" cy="199.0" r="2.5"/>
<circle cx="306.8" cy="198.4" r="2.5"/>
<circle cx="307.3" cy="198.6" r="2.5"/>
<circle cx="307.8" cy="198.9" r="2.5"/>
<circle cx="308.3" cy="198.5" r="2.5"/>
<circle cx="308.9" cy="198.0" r="2.5"/>
<circle cx="309.4" cy="197.1" r="2.5"/>
<circle cx="309.9" cy="197.1" r="2.5"/>
<circle cx="310.4" cy="197.2" r="2.5"/>
<circle cx="310.9" cy="197.4" r="2.5"/>
<circle cx="311.5" cy="196.8" r="2.5"/>
<circle cx="312.0" cy="197.8" r="2.5"/>
<circle cx="312.5" cy="198.1" r="2.5"/>
<circle cx="313.0" cy="197.6" r="2.5"/>
<circle cx="313.5" cy="196.9" r="2.5"/>
<circle cx="314.1" cy="196.5" r="2.5"/>
<circle cx="314.6" cy="196.3" r="2.5"/>
<circle cx="315.1" cy="196.0" r="2.5"/>
<circle cx="315.6" cy="196.0" r="2.5"/>
<circle cx="316.1" cy="196.1" r="2.5"/>
<circle cx="316.7" cy="196.4" r="2.5"/>
<circle cx="317.2" cy="196.5" r="2.5"/>
<circle cx="317.7" cy="195.9" r="2.5"/>
<circle cx="318.2" cy="195.6" r="2.5"/>
<circle cx="318.8" cy="194.9" r="2.5"/>
<circle cx="319.3" cy="194.1" r="2.5"/>
<circle cx="319.8" cy="194.9" r="2.5"/>
<circle cx="320.3" cy="194.1" r="2.5"/>
<circle cx="320.9" cy="194.7" r="2.5"/>
<circle cx="321.4" cy="193.8" r="2.5"/>
<circle cx="321.9" cy="193.4" r="2.5"/>
<circle cx="322.5" cy="193.4" r="2.5"/>
<circle cx="323.0" cy="192.8" r="2.5"/>
<circle cx="323.5" cy="192.5" r="2.5"/>
<circle cx="324.0" cy="191.8" r="2.5"/>
<circle cx="324.6" cy="191.0" r="2.5"/>
<circle cx="325.1" cy="190.5" r="2.5"/>
<circle cx="325.6" cy="189.8" r="2.5"/>
<circle cx="326.2" cy="190.4" r="2.5"/>
<circle cx="326.7" cy="189.8" r="2.5"/>
<circle cx="327.2" cy="190.3" r="2.5"/>
<circle cx="327.8" cy="188.3" r="2.5"/>
<circle cx="328.3" cy="188.1" r="2.5"/>
<circle cx="328.9" cy="188.2" r="2.5"/>
<circle cx="329.4" cy="187.7" r="2.5"/>
<circle cx="329.9" cy="188.0" r="2.5"/>
<circle cx="330.5" cy="187.9" r="2.5"/>
<circle cx="331.0" cy="187.3" r="2.5"/>
<circle cx="331.6" cy="187.2" r="2.5"/>
<circle cx="332.1" cy="188.3" r="2.5"/>
<circle cx="332.7" cy="187.7" r="2.5"/>
<circle cx="333.2" cy="187.2" r="2.5"/>
<circle cx="333.8" cy="186.4" r="2.5"/>
<circle cx="334.3" cy="185.9" r="2.5"/>
<circle cx="334.9" cy="184.7" r="2.5"/>
<circle cx="335.4" cy="184.3" r="2.5"/>
<circle cx="336.0" cy="185.4" r="2.5"/>
<circle cx="336.5" cy="185.4" r="2.5"/>
<circle cx="337.1" cy="185.1" r="2.5"/>
<circle cx="337.6" cy="185.1" r="2.5"/>
<circle cx="338.2" cy="185.4" r="2.5"/>
<circle cx="338.8" cy="184.9" r="2.5"/>
<circle cx="339.3" cy="185.3" r="2.5"/>
<circle cx="339.9" cy="184.9" r="2.5"/>
<circle cx="340.4" cy="184.1" r="2.5"/>
<circle cx="341.0" cy="184.2" r="2.5"/>
<circle cx="341.6" cy="182.0" r="2.5"/>
<circle cx="342.2" cy="181.2" r="2.5"/>
<circle cx="342.7" cy="180.9" r="2.5"/>
<circle cx="343.3" cy="180.0" r="2.5"/>
<circle cx="343.9" cy="179.6" r="2.5"/>
<circle cx="344.5" cy="179.0" r="2.5"/>
<circle cx="345.0" cy="178.4" r="2.5"/>
<circle cx="345.6" cy="179.7" r="2.5"/>
<circle cx="346.2" cy="179.6" r="2.5"/>
<circle cx="346.8" cy="179.1" r="2.5"/>
<circle cx="347.4" cy="179.3" r="2.5"/>
<circle cx="348.0" cy="178.6" r="2.5"/>
<circle cx="348.6" cy="178.6" r="2.5"/>
<circle cx="349.1" cy="178.2" r="2.5"/>
<circle cx="349.7" cy="178.6" r="2.5"/>
<circle cx="350.3" cy="177.1" r="2.5"/>
<circle cx="350.9" cy="177.1" r="2.5"/>
<circle cx="351.6" cy="176.7" r="2.5"/>
<circle cx="352.2" cy="175.5" r="2.5"/>
<circle cx="352.8" cy="175.8" r="2.5"/>
<circle cx="353.4" cy="174.9" r="2.5"/>
<circle cx="354.0" cy="175.5" r="2.5"/>
<circle cx="354.6" cy="175.3" r="2.5"/>
<circle cx="355.2" cy="175.1" r="2.5"/>
<circle cx="355.8" cy="174.6" r="2.5"/>
<circle cx="356.5" cy="174.6" r="2.5"/>
<circle cx="357.1" cy="173.0" r="2.5"/>
<circle cx="357.7" cy="172.7" r="2.5"/>
<circle cx="358.4" cy="172.0" r="2.5"/>
<circle cx="359.0" cy="171.9" r="2.5"/>
<circle cx="359.6" cy="171.6" r="2.5"/>
<circle cx="360.3" cy="171.6" r="2.5"/>
<circle cx="360.9" cy="170.7" r="2.5"/>
<circle cx="361.6" cy="171.4" r="2.5"/>
<circle cx="362.2" cy="172.1" r="2.5"/>
<circle cx="362.9" cy="171.2" r="2.5"/>
<circle cx="363.6" cy="170.5" r="2.5"/>
<circle cx="364.2" cy="170.0" r="2.5"/>
<circle cx="364.9" cy="170.1" r="2.5"/>
<circle cx="365.6" cy="170.4" r="2.5"/>
<circle cx="366.2" cy="168.9" r="2.5"/>
<circle cx="366.9" cy="167.9" r="2.5"/>
<circle cx="367.6" cy="166.8" r="2.5"/>
<circle cx="368.3" cy="165.8" r="2.5"/>
<circle cx="369.0" cy="164.7" r="2.5"/>
<circle cx="369.7" cy="164.7" r="2.5"/>
<circle cx="370.4" cy="163.9" r="2.5"/>
<circle cx="371.1" cy="164.6" r="2.5"/>
<circle cx="371.8" cy="164.7" r="2.5"/>
<circle cx="372.5" cy="163.6" r="2.5"/>
<circle cx="373.2" cy="162.7" r="2.5"/>
<circle cx="374.0" cy="162.1" r="2.5"/>
<circle cx="374.7" cy="162.6" r="2.5"/>
<circle cx="375.4" cy="161.7" r="2.5"/>
<circle cx="376.2" cy="160.6" r="2.5"/>
<circle cx="376.9" cy="160.3" r="2.5"/>
<circle cx="377.7" cy="160.2" r="2.5"/>
<circle cx="378.5" cy="159.4" r="2.5"/>
<circle cx="379.2" cy="159.9" r="2.5"/>
<circle cx="380.0" cy="159.4" r="2.5"/>
<circle cx="380.8" cy="159.0" r="2.5"/>
<circle cx="381.6" cy="157.9" r="2.5"/>
<circle cx="382.4" cy="157.3" r="2.5"/>
<circle cx="383.2" cy="156.7" r="2.5"/>
<circle cx="384.0" cy="154.9" r="2.5"/>
<circle cx="384.8" cy="154.7" r="2.5"/>
<circle cx="385.6" cy="153.2" r="2.5"/>
<circle cx="386.4" cy="152.8" r="2.5"/>
<circle cx="387.3" cy="151.5" r="2.5"/>
<circle cx="388.1" cy="152.2" r="2.5"/>
<circle cx="389.0" cy="151.7" r="2.5"/>
<circle cx="389.9" cy="151.4" r="2.5"/>
<circle cx="390.7" cy="151.1" r="2.5"/>
<circle cx="391.6" cy="149.4" r="2.5"/>
<circle cx="392.5" cy="147.4" r="2.5"/>
<circle cx="393.4" cy="146.6" r="2.5"/>
<circle cx="394.3" cy="146.4" r="2.5"/>
<circle cx="395.3" cy="145.6" r="2.5"/>
<circle cx="396.2" cy="145.1" r="2.5"/>
<circle cx="397.2" cy="144.8" r="2.5"/>
<circle cx="398.1" cy="143.2" r="2.5"/>
<circle cx="399.1" cy="142.7" r="2.5"/>
<circle cx="400.1" cy="143.1" r="2.5"/>
<circle cx="401.1" cy="141.9" r="2.5"/>
<circle cx="402.1" cy="140.0" r="2.5"/>
<circle cx="403.2" cy="139.5" r="2.5"/>
<circle cx="404.2" cy="138.8" r="2.5"/>
<circle cx="405.3" cy="138.6" r="2.5"/>
<circle cx="406.3" cy="137.6" r="2.5"/>
<circle cx="407.4" cy="137.3" r="2.5"/>
<circle cx="408.6" cy="135.6" r="2.5"/>
<circle cx="409.7" cy="135.8" r="2.5"/>
<circle cx="410.9" cy="136.0" r="2.5"/>
<circle cx="412.0" cy="135.8" r="2.5"/>
<circle cx="413.2" cy="133.9" r="2.5"/>
<circle cx="414.5" cy="133.1" r="2.5"/>
<circle cx="415.7" cy="130.4" r="2.5"/>
<circle cx="417.0" cy="129.8" r="2.5"/>
<circle cx="418.3" cy="128.9" r="2.5"/>
<circle cx="419.6" cy="127.4" r="2.5"/>
<circle cx="421.0" cy="126.8" r="2.5"/>
<circle cx="422.4" cy="125.8" r="2.5"/>
<circle cx="423.8" cy="125.3" r="2.5"/>
<circle cx="425.2" cy="124.1" r="2.5"/>
<circle cx="426.7" cy="123.0" r="2.5"/>
<circle cx="428.3" cy="120.5" r="2.5"/>
<circle cx="429.9" cy="118.8" r="2.5"/>
<circle cx="431.5" cy="117.3" r="2.5"/>
<circle cx="433.2" cy="116.3" r="2.5"/>
<circle cx="434.9" cy="114.9" r="2.5"/>
<circle cx="436.7" cy="114.3" r="2.5"/>
<circle cx="438.6" cy="112.3" r="2.5"/>
<circle cx="440.5" cy="111.1" r="2.5"/>
<circle cx="442.5" cy="110.2" r="2.5"/>
<circle cx="444.6" cy="108.9" r="2.5"/>
<circle cx="446.8" cy="107.9" r="2.5"/>
<circle cx="449.0" cy="106.5" r="2.5"/>
<circle cx="451.4" cy="105.3" r="2.5"/>
<circle cx="454.0" cy="98.4" r="2.5"/>
<circle cx="456.6" cy="94.9" r="2.5"/>
<circle cx="459.5" cy="84.8" r="2.5"/>
<circle cx="462.5" cy="82.0" r="2.5"/>
<circle cx="465.8" cy="77.6" r="2.5"/>
<circle cx="469.3" cy="72.2" r="2.5"/>
<circle cx="473.2" cy="72.2" r="2.5"/>
<circle cx="477.5" cy="71.3" r="2.5"/>
<circle cx="482.3" cy="70.4" r="2.5"/>
<circle cx="487.7" cy="64.1" r="2.5"/>
<circle cx="494.1" cy="57.2" r="2.5"/>
<circle cx="501.9" cy="52.6" r="2.5"/>
<circle cx="512.0" cy="43.6" r="2.5"/>
</g>
<line class="ref" x1="58" y1="328.8" x2="554" y2="72.3" stroke-dasharray="12.38 5.18 1.69 5.18"/>
<line class="ref" x1="250.2" y1="229.4" x2="361.8" y2="171.7"/><line class="gd" x1="250.2" y1="229.4" x2="361.8" y2="171.7"/>
<path class="ax" d="M58 10.4V402.8H554.3"/>
<path class="tk" d="M58 369.9h5M58 288.3h5M58 206.7h5M58 125.1h5M58 43.5h5M58.0 402.8v-5.5M140.7 402.8v-5.5M223.3 402.8v-5.5M306.0 402.8v-5.5M388.7 402.8v-5.5M471.3 402.8v-5.5M554.0 402.8v-5.5"/>
<text x="52.8" y="374.0" text-anchor="end">-<tspan dx="1.2">10</tspan></text>
<text x="52.8" y="292.4" text-anchor="end">-5</text>
<text x="52.8" y="210.8" text-anchor="end">0</text>
<text x="52.8" y="129.2" text-anchor="end">5</text>
<text x="52.8" y="47.6" text-anchor="end">10</text>
<text x="54.8" y="418.4" text-anchor="middle">-3</text>
<text x="137.2" y="418.4" text-anchor="middle">-2</text>
<text x="225.6" y="418.4" text-anchor="end">-<tspan dx="1.3">1</tspan></text>
<text x="305.2" y="418.4" text-anchor="middle">0</text>
<text x="387.7" y="418.4" text-anchor="middle">1</text>
<text x="469.4" y="418.4" text-anchor="middle">2</text>
<text x="552.9" y="418.4" text-anchor="middle">3</text>
<text x="233" y="434.6" textLength="142" lengthAdjust="spacingAndGlyphs" word-spacing="1.6">Standard Normal Quantiles</text>
<text transform="translate(25.6 294.4) rotate(-90)" textLength="170" lengthAdjust="spacingAndGlyphs">Quantiles of Sample Innovations</text>
<text x="299.3" y="154.3" textLength="67.6" lengthAdjust="spacingAndGlyphs">Crisis Period</text>
<text x="331.8" y="219.7" textLength="51.6" lengthAdjust="spacingAndGlyphs">Pre-Crisis</text>
</svg></body></html>
